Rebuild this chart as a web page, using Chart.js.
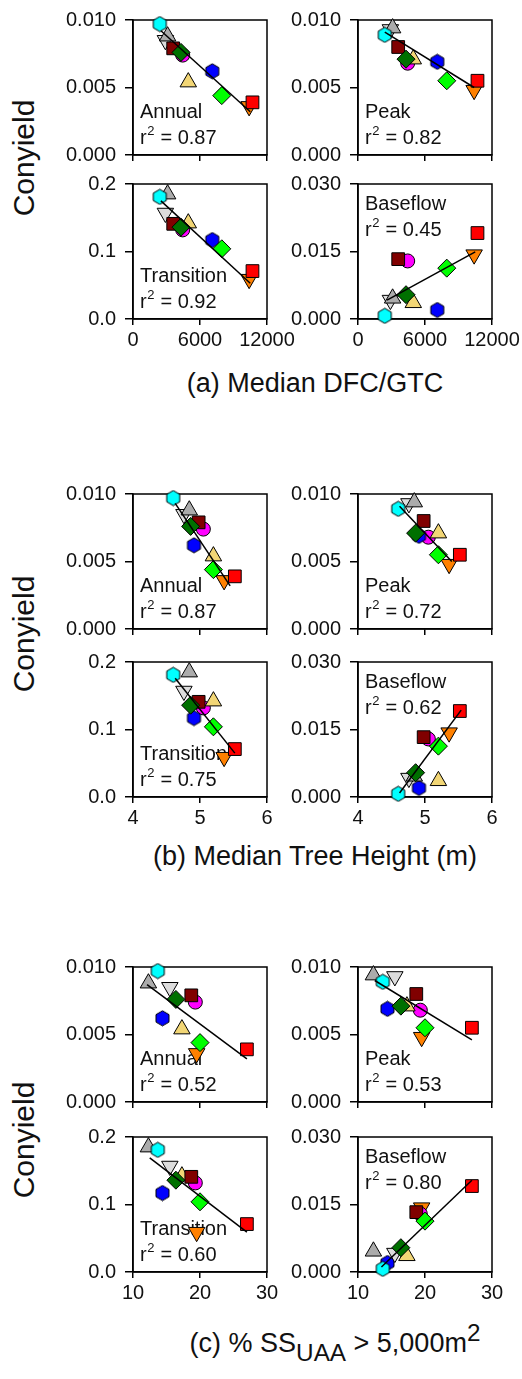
<!DOCTYPE html>
<html lang="en">
<head>
<meta charset="UTF-8">
<title>Conyield vs catchment metrics</title>
<script src="https://cdn.jsdelivr.net/npm/chart.js"></script>
<style>
    body {
        margin: 0;
        background: #fff;
        font-family: 'Liberation Sans', Arial, sans-serif;
        color: #111;
    }
    #page {
        position: relative;
        width: 522px;
        height: 1379px;
        overflow: hidden;
    }
    canvas.panel { position: absolute; }
    .ylab {
        position: absolute;
        left: 24px;
        font-size: 30px;
        white-space: nowrap;
        transform: translate(-50%, -50%) rotate(-90deg);
    }
    .cap {
        position: absolute;
        font-size: 27px;
        white-space: nowrap;
        transform: translate(-50%, -50%);
    }
    .cap sub { font-size: 0.9em; vertical-align: -0.35em; }
    .cap sup { font-size: 0.9em; vertical-align: 0.45em; }
</style>
</head>
<body>
<div id="page">
    <div class="ylab" style="top:158px">Conyield</div>
    <div class="ylab" style="top:634px">Conyield</div>
    <div class="ylab" style="top:1140px">Conyield</div>
    <div class="cap" style="left:315px; top:383px">(a) Median DFC/GTC</div>
    <div class="cap" style="left:315px; top:856px">(b) Median Tree Height (m)</div>
    <div class="cap" style="left:335px; top:1343px">(c) % SS<sub>UAA</sub> &gt; 5,000m<sup>2</sup></div>
</div>

<script>
    // sites, in this order: cyan hexagon, light grey down-triangle, grey triangle,
    // dark red square, magenta circle, dark green diamond, yellow triangle,
    // blue hexagon, green diamond, orange down-triangle, red square
    const sites = ['1', '2', '3', '4', '5', '6', '7', '8', '9', '10', '11'];

    // x variables
    const medianDfcGtc = [2400, 2900, 3100, 3600, 4450, 4300, 4950, 7100, 7950, 10400, 10700];
    const medianTreeHeight = [4.60, 4.76, 4.84, 4.98, 5.05, 4.86, 5.20, 4.91, 5.20, 5.36, 5.52];
    const pctSsUaa = [13.7, 15.5, 12.3, 18.7, 19.3, 16.4, 17.3, 14.4, 20.0, 19.5, 27.0];

    // conyield by season
    const conyieldAnnual = [0.0097, 0.0085, 0.0088, 0.0079, 0.0074, 0.0076, 0.0054, 0.0062, 0.0044, 0.0036, 0.0039];
    const conyieldPeak = [0.0089, 0.0093, 0.0094, 0.0080, 0.0068, 0.0071, 0.0071, 0.0069, 0.0055, 0.0048, 0.0055];
    const conyieldTransition = [0.181, 0.157, 0.185, 0.141, 0.132, 0.136, 0.142, 0.117, 0.104, 0.059, 0.071];
    const conyieldBaseflow = [0.0007, 0.0042, 0.0046, 0.0133, 0.0129, 0.0054, 0.0036, 0.0020, 0.0113, 0.0143, 0.0191];

    // r2 per season: annual, peak, transition, baseflow
    const r2Dfc = [0.87, 0.82, 0.92, 0.45];
    const r2Height = [0.87, 0.72, 0.75, 0.62];
    const r2Ssuaa = [0.52, 0.53, 0.60, 0.80];

    // regression line end points [x0, y0, x1, y1]
    const fitDfc = [
        [2500, 0.0092, 10500, 0.0032],
        [2400, 0.0091, 10400, 0.0050],
        [2500, 0.175, 10500, 0.053],
        [2600, 0.0042, 10500, 0.0149]
    ];
    const fitHeight = [
        [4.63, 0.0093, 5.45, 0.0032],
        [4.62, 0.0091, 5.40, 0.0050],
        [4.63, 0.176, 5.52, 0.065],
        [4.62, 0.0009, 5.54, 0.0193]
    ];
    const fitSsuaa = [
        [12.1, 0.0087, 27.0, 0.0032],
        [12.5, 0.0090, 27.0, 0.0046],
        [12.5, 0.169, 27.0, 0.059],
        [13.5, 0.0011, 27.0, 0.0204]
    ];

    // tick labels
    const ticksAnnual = [0, 0.005, 0.010];
    const ticksPeak = [0, 0.005, 0.010];
    const ticksTransition = [0, 0.1, 0.2];
    const ticksBaseflow = [0, 0.015, 0.030];
    const ticksDfc = [0, 6000, 12000];
    const ticksHeight = [4, 5, 6];
    const ticksSsuaa = [10, 20, 30];

    const FONT = "'Liberation Sans', Arial, sans-serif";

    function hexagon(fill) {
        const c = document.createElement('canvas');
        c.width = 17; c.height = 17;
        const g = c.getContext('2d');
        g.beginPath();
        for (let i = 0; i < 6; i++) {
            const a = -Math.PI / 2 + i * Math.PI / 3;
            const px = 8.5 + 7.5 * Math.cos(a), py = 8.5 + 7.5 * Math.sin(a);
            if (i === 0) g.moveTo(px, py); else g.lineTo(px, py);
        }
        g.closePath();
        g.fillStyle = fill;
        g.fill();
        g.strokeStyle = '#000';
        g.lineWidth = 1;
        g.stroke();
        return c;
    }

    // marker look of each site; layer 1 is drawn on top
    const siteStyles = [
        { style: hexagon('#00FFFF'), radius: 8, rot: 0, color: '#00FFFF', layer: 5 },
        { style: 'triangle', radius: 9.5, rot: 180, color: '#DCDCDC', layer: 7 },
        { style: 'triangle', radius: 9.5, rot: 0, color: '#ABABAB', layer: 6 },
        { style: 'rect', radius: 9, rot: 0, color: '#800000', layer: 4 },
        { style: 'circle', radius: 7, rot: 0, color: '#FF00FF', layer: 10 },
        { style: 'rectRot', radius: 9, rot: 0, color: '#007000', layer: 1 },
        { style: 'triangle', radius: 9.5, rot: 0, color: '#F2D675', layer: 9 },
        { style: hexagon('#0000FF'), radius: 8, rot: 0, color: '#0000FF', layer: 8 },
        { style: 'rectRot', radius: 9, rot: 0, color: '#00FF00', layer: 3 },
        { style: 'triangle', radius: 9.5, rot: 180, color: '#FF8000', layer: 11 },
        { style: 'rect', radius: 9, rot: 0, color: '#FF0000', layer: 2 }
    ];

    const seasons = [
        { name: 'Annual', y: conyieldAnnual, ticks: ticksAnnual, dec: 3 },
        { name: 'Peak', y: conyieldPeak, ticks: ticksPeak, dec: 3 },
        { name: 'Transition', y: conyieldTransition, ticks: ticksTransition, dec: 1 },
        { name: 'Baseflow', y: conyieldBaseflow, ticks: ticksBaseflow, dec: 3 }
    ];

    const groups = [
        { x: medianDfcGtc, ticks: ticksDfc, fits: fitDfc, r2: r2Dfc, tops: [20, 184] },
        { x: medianTreeHeight, ticks: ticksHeight, fits: fitHeight, r2: r2Height, tops: [494, 662] },
        { x: pctSsUaa, ticks: ticksSsuaa, fits: fitSsuaa, r2: r2Ssuaa, tops: [967, 1137] }
    ];

    const colLefts = [63, 288];

    function decorPlugin(name, r2, nearTop) {
        return {
            id: 'decor',
            beforeDatasetsDraw(chart) {
                const { ctx, chartArea: a } = chart;
                ctx.save();
                ctx.strokeStyle = '#000';
                ctx.lineWidth = 1.5;
                ctx.strokeRect(a.left, a.top, a.right - a.left, a.bottom - a.top);
                ctx.fillStyle = '#111';
                ctx.textAlign = 'left';
                ctx.textBaseline = 'middle';
                ctx.font = '20px ' + FONT;
                const x = a.left + 7;
                const y1 = a.top + (nearTop ? 20 : 92);
                const y2 = y1 + 26;
                ctx.fillText(name, x, y1);
                ctx.fillText('r', x, y2);
                let w = ctx.measureText('r').width;
                ctx.font = '13px ' + FONT;
                ctx.fillText('2', x + w + 0.5, y2 - 7);
                w += ctx.measureText('2').width + 1;
                ctx.font = '20px ' + FONT;
                ctx.fillText(' = ' + r2.toFixed(2), x + w, y2);
                ctx.restore();
            }
        };
    }

    const page = document.getElementById('page');

    groups.forEach((grp) => {
        seasons.forEach((s, si) => {
            const col = si % 2, row = Math.floor(si / 2);
            const canvas = document.createElement('canvas');
            canvas.className = 'panel';
            canvas.width = 238;
            canvas.height = 183;
            canvas.style.left = colLefts[col] + 'px';
            canvas.style.top = (grp.tops[row] - 12) + 'px';
            page.appendChild(canvas);

            const fit = grp.fits[si];
            const datasets = [{
                type: 'line',
                data: [{ x: fit[0], y: fit[1] }, { x: fit[2], y: fit[3] }],
                borderColor: '#000',
                borderWidth: 1.5,
                pointRadius: 0,
                fill: false,
                clip: false,
                order: 0
            }];
            sites.forEach((site, i) => {
                const st = siteStyles[i];
                datasets.push({
                    label: site,
                    data: [{ x: grp.x[i], y: s.y[i] }],
                    pointStyle: st.style,
                    pointRadius: st.radius,
                    pointRotation: st.rot,
                    backgroundColor: st.color,
                    borderColor: '#000',
                    borderWidth: 1,
                    showLine: false,
                    clip: false,
                    order: st.layer
                });
            });

            new Chart(canvas.getContext('2d'), {
                type: 'scatter',
                data: { datasets },
                options: {
                    responsive: false,
                    animation: false,
                    events: [],
                    layout: { padding: { top: 12, right: 34, left: 0, bottom: 0 } },
                    plugins: { legend: { display: false }, tooltip: { enabled: false } },
                    scales: {
                        x: {
                            type: 'linear',
                            min: grp.ticks[0],
                            max: grp.ticks[grp.ticks.length - 1],
                            afterBuildTicks: (sc) => { sc.ticks = grp.ticks.map(v => ({ value: v })); },
                            afterFit: (sc) => { sc.height = 36; sc.paddingLeft = 0; sc.paddingRight = 0; },
                            grid: { drawOnChartArea: false, tickLength: 6, color: '#000', lineWidth: 1.5 },
                            border: { color: '#000', width: 1.5 },
                            ticks: {
                                display: row === 1,
                                color: '#111',
                                padding: 3,
                                maxRotation: 0,
                                autoSkip: false,
                                font: { size: 20, family: FONT },
                                callback: (v) => String(v)
                            }
                        },
                        y: {
                            type: 'linear',
                            min: s.ticks[0],
                            max: s.ticks[s.ticks.length - 1],
                            afterBuildTicks: (sc) => { sc.ticks = s.ticks.map(v => ({ value: v })); },
                            afterFit: (sc) => { sc.width = 70; sc.paddingTop = 0; sc.paddingBottom = 0; },
                            grid: { drawOnChartArea: false, tickLength: 8, color: '#000', lineWidth: 1.5 },
                            border: { color: '#000', width: 1.5 },
                            ticks: {
                                color: '#111',
                                padding: 9,
                                autoSkip: false,
                                font: { size: 20, family: FONT },
                                callback: (v) => v.toFixed(s.dec)
                            }
                        }
                    }
                },
                plugins: [decorPlugin(s.name, grp.r2[si], si === 3)]
            });
        });
    });
</script>
</body>
</html>
